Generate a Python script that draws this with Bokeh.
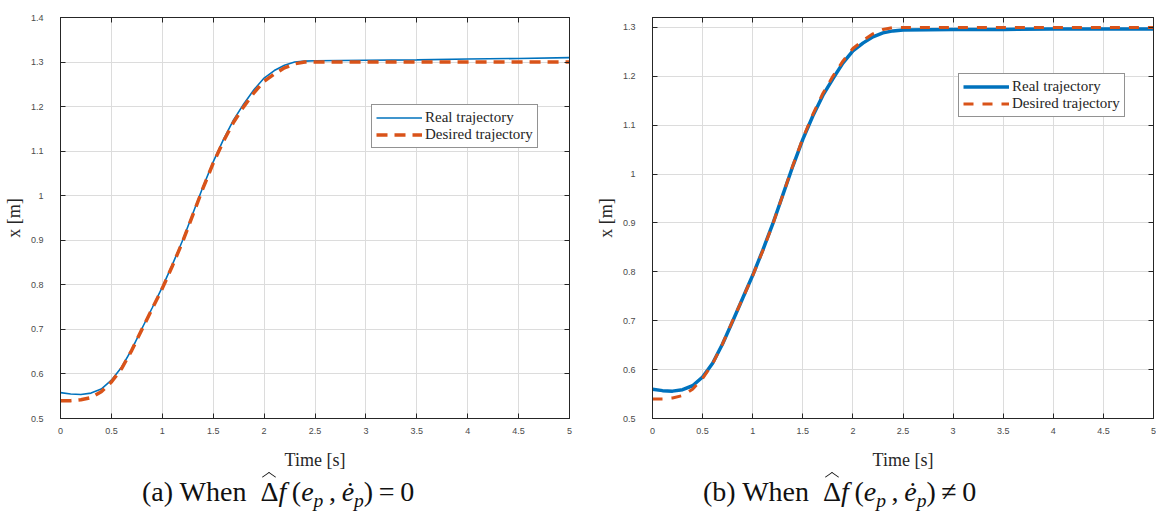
from bokeh.plotting import figure
from bokeh.models import (LinearAxis, FixedTicker, CustomJSTickFormatter, Range1d,
                          Legend, LegendItem, Div)
from bokeh.layouts import row, column
from bokeh.embed import file_html
from bokeh.resources import INLINE

# ---------------- data ----------------
time = [0.0, 0.1, 0.2, 0.3, 0.4, 0.5, 0.6, 0.7, 0.8, 0.9, 1.0, 1.1, 1.2, 1.3,
        1.4, 1.5, 1.6, 1.7, 1.8, 1.9, 2.0, 2.1, 2.2, 2.3, 2.4, 2.5, 3.0, 3.5,
        4.0, 4.5, 5.0]

desired = [0.540, 0.540, 0.542, 0.547, 0.560, 0.582, 0.612, 0.653, 0.700, 0.746,
           0.792, 0.843, 0.897, 0.957, 1.017, 1.073, 1.122, 1.165, 1.200, 1.231,
           1.257, 1.273, 1.287, 1.296, 1.300, 1.300, 1.300, 1.300, 1.300, 1.300,
           1.300]

real_a = [0.558, 0.555, 0.554, 0.557, 0.566, 0.586, 0.615, 0.655, 0.702, 0.748,
          0.795, 0.846, 0.900, 0.960, 1.020, 1.076, 1.126, 1.170, 1.206, 1.238,
          1.264, 1.281, 1.293, 1.300, 1.302, 1.303, 1.304, 1.305, 1.307, 1.308,
          1.310]

real_b = [0.560, 0.557, 0.556, 0.559, 0.567, 0.585, 0.613, 0.653, 0.699, 0.746,
          0.793, 0.844, 0.898, 0.957, 1.016, 1.071, 1.119, 1.161, 1.195, 1.227,
          1.252, 1.268, 1.281, 1.289, 1.293, 1.295, 1.296, 1.296, 1.297, 1.297,
          1.297]

x_ticks = [0, 0.5, 1, 1.5, 2, 2.5, 3, 3.5, 4, 4.5, 5]
y_ticks_a = [0.5, 0.6, 0.7, 0.8, 0.9, 1, 1.1, 1.2, 1.3, 1.4]
y_ticks_b = [0.5, 0.6, 0.7, 0.8, 0.9, 1, 1.1, 1.2, 1.3]

label_real = "Real trajectory"
label_desired = "Desired trajectory"
x_label = "Time [s]"
y_label = "x [m]"
caption_a = ("(a) When", "=")
caption_b = ("(b) When", "&ne;")

BLUE = "#0072BD"
RED = "#D95319"
AX = "#262626"
TICKC = "#4a4a4a"


def make_panel(width, height, border_l, border_r, y_end, y_ticks, real, lw_real,
               lw_des, dash, leg_xy):
    p = figure(width=width, height=height, output_backend="svg",
               toolbar_location=None, x_range=Range1d(0, 5),
               y_range=Range1d(0.5, y_end), min_border_left=border_l,
               min_border_right=border_r, min_border_top=17,
               min_border_bottom=57, x_axis_location=None,
               y_axis_location=None)
    p.background_fill_color = "white"
    p.outline_line_color = AX
    p.outline_line_width = 1

    xt = FixedTicker(ticks=x_ticks, minor_ticks=[])
    yt = FixedTicker(ticks=y_ticks, minor_ticks=[])

    def style(ax, show_labels):
        ax.major_tick_in = 5
        ax.major_tick_out = 0
        ax.minor_tick_in = 0
        ax.minor_tick_out = 0
        ax.axis_line_color = AX
        ax.major_tick_line_color = AX
        ax.major_label_text_font = "Liberation Sans"
        ax.major_label_text_font_size = "9px"
        ax.major_label_text_color = TICKC
        if show_labels:
            ax.formatter = CustomJSTickFormatter(code="return tick.toString();")
        else:
            ax.formatter = CustomJSTickFormatter(code="return '';")
            ax.major_label_standoff = 0
        ax.axis_label_text_font = "Liberation Serif"
        ax.axis_label_text_font_style = "normal"
        ax.axis_label_text_font_size = "18px"
        ax.axis_label_text_color = AX

    xb = LinearAxis(ticker=xt, axis_label=x_label)
    style(xb, True)
    xb.major_label_standoff = 9
    xb.axis_label_standoff = 13
    p.add_layout(xb, "below")

    yl = LinearAxis(ticker=yt, axis_label=y_label)
    style(yl, True)
    yl.major_label_standoff = 17
    yl.axis_label_standoff = 4
    p.add_layout(yl, "left")

    xa = LinearAxis(ticker=xt)
    style(xa, False)
    p.add_layout(xa, "above")
    yr = LinearAxis(ticker=yt)
    style(yr, False)
    p.add_layout(yr, "right")

    p.xgrid.ticker = xt
    p.ygrid.ticker = yt
    p.xgrid.grid_line_color = "#dcdcdc"
    p.ygrid.grid_line_color = "#dcdcdc"

    r1 = p.line(time, real, line_color=BLUE, line_width=lw_real)
    r2 = p.line(time, desired, line_color=RED, line_width=lw_des,
                line_dash=dash)

    leg = Legend(items=[LegendItem(label=label_real, renderers=[r1]),
                        LegendItem(label=label_desired, renderers=[r2])],
                 location=leg_xy)
    leg.label_text_font = "Liberation Serif"
    leg.label_text_font_size = "15px"
    leg.label_text_color = AX
    leg.label_standoff = 3
    leg.label_height = 15
    leg.glyph_height = 15
    leg.glyph_width = 46
    leg.spacing = 0
    leg.padding = 4
    leg.margin = 0
    leg.border_line_color = AX
    leg.border_line_width = 1
    leg.background_fill_color = "white"
    leg.background_fill_alpha = 1
    p.add_layout(leg, "center")
    return p


pa = make_panel(592, 475, 59, 23, 1.4, y_ticks_a, real_a, 1.6, 3.5, "11 7",
                (311, 270))
pb = make_panel(564, 475, 59, 3, 1.3204, y_ticks_b, real_b, 3.5, 3.0, "10 9",
                (306, 301))


def caption_html(parts):
    head, rel = parts
    hat = ('<span style="position:relative;display:inline-block">&Delta;'
           '<span style="position:absolute;left:50%;top:-3px;width:10px;'
           'height:10px;border-left:1.3px solid #111;border-top:1.3px solid #111;'
           'transform:translateX(-50%) scaleY(0.7) rotate(45deg)"></span></span>')
    sub = '<i style="font-size:0.7em;position:relative;top:0.3em">p</i>'
    return (head + '&nbsp;&nbsp;' + hat + '<i>f</i>&#8201;(<i>e</i>' + sub +
            '&#8201;,&#8201;<i>&#279;</i>' + sub + ')&#8201;' + rel + '&#8201;0')


cap_style = {"font-family": "Liberation Serif", "font-size": "28px",
             "color": "#111", "line-height": "34px", "white-space": "nowrap"}

cap_a = Div(text=caption_html(caption_a), width=592, height=34, margin=0,
            styles=dict(cap_style, **{"padding-left": "142px",
                                      "box-sizing": "border-box"}))
cap_b = Div(text=caption_html(caption_b), width=564, height=34, margin=0,
            styles=dict(cap_style, **{"padding-left": "111px",
                                      "box-sizing": "border-box"}))

layout = row(column(pa, cap_a, spacing=0), column(pb, cap_b, spacing=0),
             spacing=0)

open("out.html", "w").write(file_html(layout, INLINE))
